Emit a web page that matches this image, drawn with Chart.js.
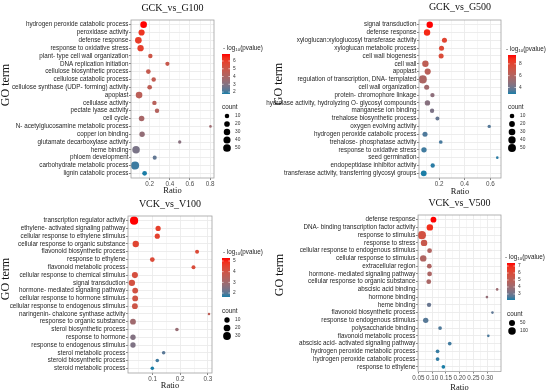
<!DOCTYPE html>
<html>
<head>
<meta charset="utf-8">
<script src="https://cdn.jsdelivr.net/npm/chart.js@4"></script>
<style>
  body{margin:0;background:#fff;width:550px;height:391px;overflow:hidden;position:relative}
  canvas{position:absolute}
</style>
</head>
<body>
<canvas id="p1" width="275" height="197" style="left:0;top:0;width:275px;height:197px"></canvas>
<canvas id="p2" width="288" height="197" style="left:262px;top:0;width:288px;height:197px"></canvas>
<canvas id="p3" width="275" height="196" style="left:0;top:195px;width:275px;height:196px"></canvas>
<canvas id="p4" width="288" height="196" style="left:262px;top:195px;width:288px;height:196px"></canvas>
<script>
// ---- GCK_vs_G100
const terms1=['hydrogen peroxide catabolic process','peroxidase activity','defense response','response to oxidative stress','plant- type cell wall organization','DNA replication initiation','cellulose biosynthetic process','cellulose catabolic process','cellulose synthase (UDP- forming) activity','apoplast','cellulase activity','pectate lyase activity','cell cycle','N- acetylglucosamine metabolic process','copper ion binding','glutamate decarboxylase activity','heme binding','phloem development','carbohydrate metabolic process','lignin catabolic process'];
const ratio1=[0.14,0.12,0.088,0.11,0.207,0.376,0.187,0.24,0.2,0.095,0.247,0.273,0.12,0.803,0.125,0.498,0.065,0.25,0.055,0.15];
const count1=[33,26,33,28,9,8,11,9,11,33,9,9,19,3,17,4,46,7,60,11];
const logp1=[6.9,6.2,6.0,5.9,5.0,4.85,4.75,4.65,4.55,4.45,4.35,4.25,3.9,3.6,3.35,3.1,2.8,2.4,1.95,1.75];
const xMajor1=[0.2,0.4,0.6,0.8], xMinor1=[0.1,0.3,0.5,0.7];
const pTicks1=[6,5,4,3,2], cBreaks1=[10,20,30,40,50];

// ---- GCK_vs_G500
const terms2=['signal transduction','defense response','xyloglucan:xyloglucosyl transferase activity','xyloglucan metabolic process','cell wall biogenesis','cell wall','apoplast','regulation of transcription, DNA- templated','cell wall organization','protein- chromophore linkage','hydrolase activity, hydrolyzing O- glycosyl compounds','manganese ion binding','trehalose biosynthetic process','oxygen evolving activity','hydrogen peroxide catabolic process','trehalose- phosphatase activity','response to oxidative stress','seed germination','endopeptidase inhibitor activity','transferase activity, transferring glycosyl groups'];
const ratio2=[0.127,0.106,0.242,0.219,0.216,0.093,0.111,0.072,0.103,0.148,0.109,0.145,0.187,0.592,0.09,0.213,0.082,0.655,0.15,0.08];
const count2=[27,27,13,13,13,27,24,55,13,8,16,8,6,4,13,5,16,3,8,20];
const logp2=[9.5,9.0,8.0,7.8,7.7,6.5,6.3,5.8,5.4,4.8,4.6,4.3,3.8,3.5,3.4,3.3,3.2,3.0,3.0,2.9];
const xMajor2=[0.2,0.4,0.6], xMinor2=[0.1,0.3,0.5];
const pTicks2=[8,6,4], cBreaks2=[10,20,30,40,50];

// ---- VCK_vs_V100
const terms3=['transcription regulator activity','ethylene- activated signaling pathway','cellular response to ethylene stimulus','cellular response to organic substance','flavonoid biosynthetic process','response to ethylene','flavonoid metabolic process','cellular response to chemical stimulus','signal transduction','hormone- mediated signaling pathway','cellular response to hormone stimulus','cellular response to endogenous stimulus','naringenin- chalcone synthase activity','response to organic substance','sterol biosynthetic process','response to hormone','response to endogenous stimulus','sterol metabolic process','steroid biosynthetic process','steroid metabolic process'];
const ratio3=[0.033,0.12,0.117,0.039,0.261,0.099,0.248,0.036,0.025,0.037,0.037,0.036,0.304,0.029,0.188,0.029,0.029,0.14,0.117,0.099];
const count3=[35,9,9,17,4,7,4,15,17,13,13,13,2,13,3,10,10,3,3,3];
const logp3=[5.28,4.6,4.55,4.45,4.35,4.3,4.25,4.15,4.1,4.05,4.0,3.95,3.6,3.0,2.85,2.5,2.45,2.0,1.8,1.63];
const xMajor3=[0.1,0.2,0.3], xMinor3=[0.05,0.15,0.25];
const pTicks3=[5,4,3,2], cBreaks3=[10,20,30];

// ---- VCK_vs_V500
const terms4=['defense response','DNA- binding transcription factor activity','response to stimulus','response to stress','cellular response to endogenous stimulus','cellular response to stimulus','extracellular region','hormone- mediated signaling pathway','cellular response to organic substance','abscisic acid binding','hormone binding','heme binding','flavonoid biosynthetic process','response to endogenous stimulus','polysaccharide binding','flavonoid metabolic process','abscisic acid- activated signaling pathway','hydrogen peroxide metabolic process','hydrogen peroxide catabolic process','response to ethylene'];
const ratio4=[0.105,0.092,0.063,0.071,0.091,0.068,0.09,0.091,0.088,0.336,0.299,0.089,0.319,0.077,0.129,0.304,0.164,0.12,0.12,0.141];
const count4=[45,63,130,63,22,63,22,22,22,3,3,16,3,35,8,3,8,8,8,8];
const logp4=[7.43,6.9,5.7,5.3,4.6,4.55,4.5,4.45,4.4,4.0,3.8,2.9,2.75,2.65,2.55,2.5,2.4,2.3,2.25,2.14];
const xMajor4=[0.05,0.10,0.15,0.20,0.25,0.30], xMinor4=[0.075,0.125,0.175,0.225,0.275,0.325];
const pTicks4=[7,6,5,4,3], cBreaks4=[50,100];

const LOW='#1A7DA6', HIGH='#FF0000';
const SANS='"Liberation Sans", Arial, sans-serif', SERIF='"Liberation Serif", "Times New Roman", serif';

// ggplot-like Lab interpolation
function toLab(h){
  const c=[1,3,5].map(i=>parseInt(h.slice(i,i+2),16)/255).map(v=>v<=0.04045?v/12.92:Math.pow((v+0.055)/1.055,2.4));
  const X=(0.4124*c[0]+0.3576*c[1]+0.1805*c[2])/0.95047, Y=0.2126*c[0]+0.7152*c[1]+0.0722*c[2], Z=(0.0193*c[0]+0.1192*c[1]+0.9505*c[2])/1.08883;
  const f=t=>t>0.008856?Math.cbrt(t):7.787*t+16/116;
  return [116*f(Y)-16,500*(f(X)-f(Y)),200*(f(Y)-f(Z))];
}
function fromLab(L,a,b){
  const fy=(L+16)/116, fx=fy+a/500, fz=fy-b/200;
  const g=t=>t*t*t>0.008856?t*t*t:(t-16/116)/7.787;
  const X=g(fx)*0.95047, Y=g(fy), Z=g(fz)*1.08883;
  const lin=[3.2406*X-1.5372*Y-0.4986*Z,-0.9689*X+1.8758*Y+0.0415*Z,0.0557*X-0.2040*Y+1.0570*Z];
  const s=lin.map(v=>v<=0.0031308?12.92*v:1.055*Math.pow(v,1/2.4)-0.055).map(v=>Math.round(Math.max(0,Math.min(1,v))*255));
  return `rgb(${s[0]},${s[1]},${s[2]})`;
}
const labLo=toLab(LOW), labHi=toLab(HIGH);
function colorAt(t){t=Math.max(0,Math.min(1,t));return fromLab(...labLo.map((x,i)=>x+(labHi[i]-x)*t));}

const deco={
  id:'deco',
  afterDatasetsDraw(chart,args,o){
    const ctx=chart.ctx,a=chart.chartArea;
    ctx.save();
    ctx.strokeStyle='#a0a0a0';ctx.lineWidth=0.8;
    ctx.strokeRect(a.left,a.top,a.right-a.left,a.bottom-a.top);
    const mid=(a.left+a.right)/2;
    ctx.fillStyle='#111';ctx.textAlign='center';ctx.textBaseline='middle';
    ctx.font=`10px ${SERIF}`;ctx.fillText(o.title,mid,o.titleY);
    ctx.font=`8.5px ${SERIF}`;ctx.fillText('Ratio',mid,o.ratioY);
    ctx.save();ctx.translate(o.goX,o.goY);ctx.rotate(-Math.PI/2);
    ctx.font=`12px ${SERIF}`;ctx.fillText('GO term',0,0);ctx.restore();
    // colour bar
    const [bx,by,bw,bh]=o.bar;
    ctx.textAlign='left';ctx.fillStyle='#222';
    ctx.font=`6.3px ${SANS}`;
    let tx=o.legX;ctx.fillText('- log',tx,o.legY);tx+=ctx.measureText('- log').width;
    ctx.font=`4.4px ${SANS}`;ctx.fillText('10',tx,o.legY+1.6);tx+=ctx.measureText('10').width;
    ctx.font=`6.3px ${SANS}`;ctx.fillText('(pvalue)',tx,o.legY);
    const gr=ctx.createLinearGradient(0,by+bh,0,by);
    for(let i=0;i<=10;i++)gr.addColorStop(i/10,colorAt(i/10));
    ctx.fillStyle=gr;ctx.fillRect(bx,by,bw,bh);
    ctx.font=`4.8px ${SANS}`;
    o.pTicks.forEach(v=>{
      const y=by+bh-(v-o.pMin)/(o.pMax-o.pMin)*bh;
      ctx.strokeStyle='#fff';ctx.lineWidth=0.6;
      ctx.beginPath();ctx.moveTo(bx,y);ctx.lineTo(bx+1.6,y);ctx.moveTo(bx+bw-1.6,y);ctx.lineTo(bx+bw,y);ctx.stroke();
      ctx.fillStyle='#333';ctx.fillText(String(v),bx+bw+3,y);
    });
    // count legend
    ctx.fillStyle='#222';ctx.font=`6.3px ${SANS}`;
    ctx.fillText('count',o.cntX,o.cntY);
    o.cBreaks.forEach((c,i)=>{
      const y=o.dotY0+i*o.dotStep;
      ctx.fillStyle='#000';ctx.beginPath();ctx.arc(o.dotX,y,o.size(c),0,Math.PI*2);ctx.fill();
      ctx.fillStyle='#333';ctx.font=`4.8px ${SANS}`;ctx.fillText(String(c),o.dotX+8,y);
    });
    ctx.restore();
  }
};

function makePanel(id,p){
  const lo=Math.min(...p.count),hi=Math.max(...p.count);
  const size=c=>1.3+2.8*Math.sqrt(Math.max(0,(c-lo)/(hi-lo)));
  const pMin=p.pRange[0],pMax=p.pRange[1];
  const allX=[...p.xMajor,...p.xMinor].sort((a,b)=>a-b);
  const isMajor=v=>p.xMajor.some(m=>Math.abs(m-v)<1e-9);
  const pts=p.terms.map((t,i)=>({x:p.ratio[i],y:i,r:size(p.count[i])}));
  new Chart(document.getElementById(id),{
    type:'bubble',
    data:{datasets:[{data:pts,backgroundColor:p.logp.map(v=>colorAt((v-pMin)/(pMax-pMin))),borderWidth:0}]},
    plugins:[deco],
    options:{
      responsive:false,devicePixelRatio:1,animation:false,events:[],
      layout:{padding:{left:0,top:p.padTop,right:p.padRight,bottom:0}},
      plugins:{legend:{display:false},tooltip:{enabled:false},
        deco:Object.assign({size,pMin,pMax,pTicks:p.pTicks,cBreaks:p.cBreaks},p.deco)},
      scales:{
        x:{type:'linear',min:p.xRange[0],max:p.xRange[1],
          afterBuildTicks:s=>{s.ticks=allX.map(v=>({value:v}));},
          afterFit:s=>{s.height=p.xH;},
          ticks:{autoSkip:false,maxRotation:0,padding:0.5,color:'#4d4d4d',font:{family:SANS,size:6.3},
            callback:v=>isMajor(v)?v.toFixed(p.dec):''},
          grid:{color:'#ebebeb',lineWidth:c=>c.tick&&isMajor(c.tick.value)?0.9:0.45,
            tickLength:2,tickColor:'#333',tickWidth:c=>c.tick&&isMajor(c.tick.value)?0.6:0},
          border:{display:false}},
        y:{type:'linear',reverse:true,min:-0.6,max:p.terms.length-0.4,
          afterBuildTicks:s=>{s.ticks=p.terms.map((t,i)=>({value:i}));},
          afterFit:s=>{s.width=p.yW;},
          ticks:{autoSkip:false,padding:0.5,color:'#262626',font:{family:SANS,size:6.3},
            callback:v=>p.terms[v]},
          grid:{color:'#ebebeb',lineWidth:0.9,tickLength:2,tickColor:'#333',tickWidth:0.6},
          border:{display:false}}
      }
    }
  });
}

makePanel('p1',{terms:terms1,ratio:ratio1,count:count1,logp:logp1,xMajor:xMajor1,xMinor:xMinor1,dec:1,
  xRange:[0.015,0.838],pRange:[1.75,6.9],pTicks:pTicks1,cBreaks:cBreaks1,
  yW:131,padTop:20,padRight:61,xH:19,
  deco:{title:'GCK_vs_G100',titleY:8.5,ratioY:191,goX:6,goY:85,legX:223,legY:48,bar:[222,54,8,40],
    cntX:222,cntY:107,dotX:227,dotY0:116,dotStep:8}});
makePanel('p2',{terms:terms2,ratio:ratio2,count:count2,logp:logp2,xMajor:xMajor2,xMinor:xMinor2,dec:1,
  xRange:[0.043,0.684],pRange:[2.9,9.5],pTicks:pTicks2,cBreaks:cBreaks2,
  yW:157,padTop:20,padRight:49,xH:19,
  deco:{title:'GCK_vs_G500',titleY:7.5,ratioY:191.5,goX:17,goY:84,legX:244,legY:49,bar:[246,55,8,39],
    cntX:246,cntY:107,dotX:250,dotY0:116,dotStep:8}});
makePanel('p3',{terms:terms3,ratio:ratio3,count:count3,logp:logp3,xMajor:xMajor3,xMinor:xMinor3,dec:1,
  xRange:[0.011,0.315],pRange:[1.63,5.28],pTicks:pTicks3,cBreaks:cBreaks3,
  yW:128,padTop:21,padRight:63,xH:18,
  deco:{title:'VCK_vs_V100',titleY:9.5,ratioY:191,goX:6,goY:84,legX:223,legY:57,bar:[222,63,8,39],
    cntX:222,cntY:116,dotX:227,dotY0:125,dotStep:8}});
makePanel('p4',{terms:terms4,ratio:ratio4,count:count4,logp:logp4,xMajor:xMajor4,xMinor:xMinor4,dec:2,
  xRange:[0.049,0.35],pRange:[2.14,7.43],pTicks:pTicks4,cBreaks:cBreaks4,
  yW:156,padTop:20,padRight:49,xH:19.5,
  deco:{title:'VCK_vs_V500',titleY:8.5,ratioY:192.5,goX:18,goY:80,legX:243,legY:62,bar:[245,68,8,37],
    cntX:245,cntY:119,dotX:250,dotY0:128,dotStep:8}});
</script>
</body>
</html>
